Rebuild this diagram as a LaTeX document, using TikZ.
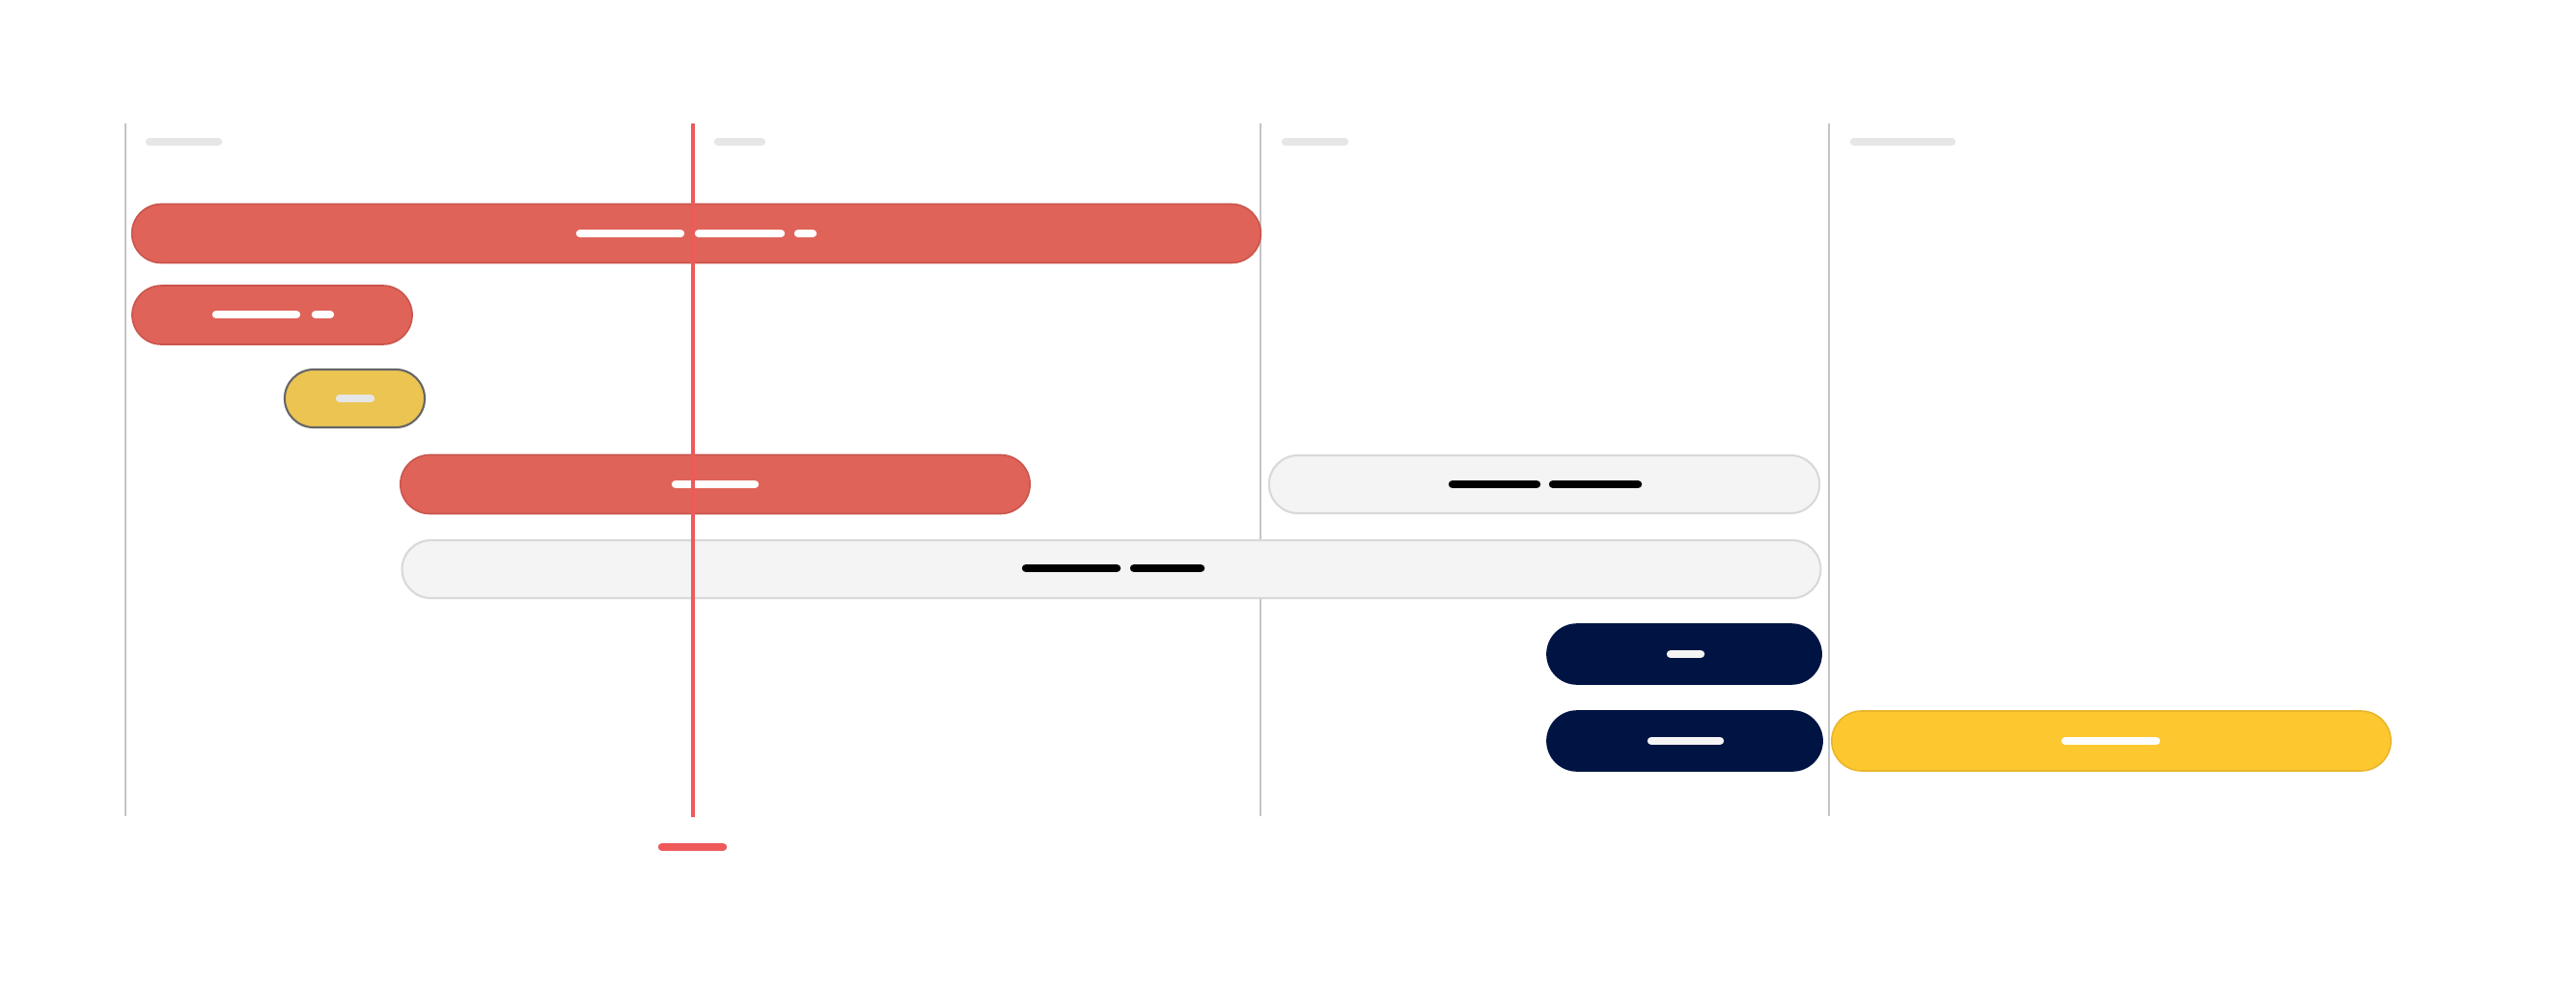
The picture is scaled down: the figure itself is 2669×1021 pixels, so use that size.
\documentclass[tikz,border=0pt]{standalone}
\usepackage{tikz}

\definecolor{barred}{HTML}{DF6359}
\definecolor{barreddark}{HTML}{C9554C}
\definecolor{barnavy}{HTML}{001443}
\definecolor{bargrey}{HTML}{F4F4F4}
\definecolor{bargreyline}{HTML}{D9D9D9}
\definecolor{barsand}{HTML}{EBC452}
\definecolor{bargold}{HTML}{FDC82F}
\definecolor{bargoldline}{HTML}{E9B52A}
\definecolor{gridgrey}{HTML}{C4C4C4}
\definecolor{labelgrey}{HTML}{E6E6E6}
\definecolor{nowred}{HTML}{EE5A5A}

\tikzset{
  pill/.style={rectangle, rounded corners=0.305cm, minimum height=0.61cm, inner sep=0pt, line width=0.45pt},
  redpill/.style={pill, fill=barred, draw=barreddark},
  greypill/.style={pill, fill=bargrey, draw=bargreyline, line width=0.6pt},
  navypill/.style={pill, fill=barnavy, draw=barnavy},
  sandpill/.style={pill, fill=barsand, draw=black!60, line width=0.6pt},
  goldpill/.style={pill, fill=bargold, draw=bargoldline},
  blob/.style={line width=2.4pt, line cap=round},
  gridline/.style={gridgrey, line width=0.55pt},
}

\begin{document}
\begin{tikzpicture}[x=0.01cm, y=-0.01cm]
\useasboundingbox [fill=white] (0,0) rectangle (2669,1021);

% Time grid
\draw [gridline] (130,128) -- (130,846);
\draw [gridline] (1306,128) -- (1306,846);
\draw [gridline] (1895,128) -- (1895,846);

% Column headings
\draw [blob, labelgrey] (155,147) -- (226,147);
\draw [blob, labelgrey] (744,147) -- (789,147);
\draw [blob, labelgrey] (1332,147) -- (1393,147);
\draw [blob, labelgrey] (1921,147) -- (2022,147);

% Rows
\node [redpill, minimum width=11.69cm] (r1) at (721.5,242) {};
\draw [blob, white] (601,242) -- (705,242);
\draw [blob, white] (724,242) -- (809,242);
\draw [blob, white] (827,242) -- (842,242);

\node [redpill, minimum width=2.90cm] (r2) at (282,326.5) {};
\draw [blob, white] (224,326) -- (307,326);
\draw [blob, white] (327,326) -- (342,326);

\node [sandpill, minimum width=1.45cm, minimum height=0.60cm, rounded corners=0.30cm] (s3) at (367.5,413) {};
\draw [blob, labelgrey] (352,413) -- (384,413);

\node [redpill, minimum width=6.52cm] (r4) at (741,502) {};
\draw [blob, white] (700,502) -- (782,502);
\node [greypill, minimum width=5.70cm, minimum height=0.60cm, rounded corners=0.30cm] (g4) at (1600,502) {};
\draw [blob, black] (1505,502) -- (1592,502);
\draw [blob, black] (1609,502) -- (1697,502);

\node [greypill, minimum width=14.69cm, minimum height=0.60cm, rounded corners=0.30cm] (g5) at (1151.5,590) {};
\draw [blob, black] (1063,589) -- (1157,589);
\draw [blob, black] (1175,589) -- (1244,589);

\node [navypill, minimum width=2.84cm, minimum height=0.62cm, rounded corners=0.31cm] (n6) at (1745,678) {};
\draw [blob, bargrey] (1731,678) -- (1762,678);

\node [navypill, minimum width=2.85cm, minimum height=0.62cm, rounded corners=0.31cm] (n7) at (1745.5,768) {};
\draw [blob, bargrey] (1711,768) -- (1782,768);
\node [goldpill, minimum width=5.79cm, minimum height=0.62cm, rounded corners=0.31cm] (y7) at (2187.5,768) {};
\draw [blob, white] (2140,768) -- (2234,768);

% Today marker
\draw [nowred, line width=1pt] (718,128) -- (718,847);
\draw [blob, nowred] (686,878) -- (749,878);

\end{tikzpicture}
\end{document}
